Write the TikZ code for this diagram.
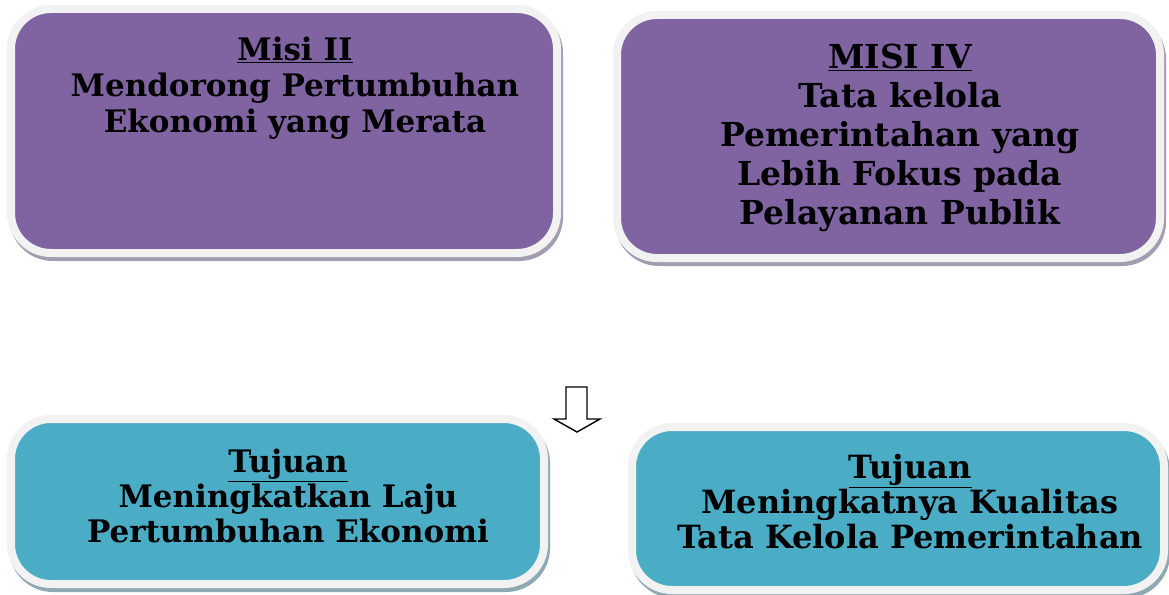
\documentclass[tikz,border=0pt]{standalone}
\usepackage{fontspec}
\setmainfont{DejaVu Serif}
\usetikzlibrary{shadows}
\definecolor{purp}{HTML}{8064A2}
\definecolor{cyanb}{HTML}{4BACC6}
\definecolor{rim}{HTML}{F2F2F2}
\definecolor{shp}{HTML}{A49CB0}
\definecolor{shc}{HTML}{8FA9B2}
\tikzset{
  card/.style={rectangle, rounded corners=40pt, draw=rim, line width=8pt, inner sep=0pt},
  purplecard/.style={card, fill=purp, drop shadow={shadow xshift=2pt, shadow yshift=-4pt, fill=shp, draw=shp, line width=8pt, opacity=1}},
  cyancard/.style={card, fill=cyanb, drop shadow={shadow xshift=2pt, shadow yshift=-4pt, fill=shc, draw=shc, line width=8pt, opacity=1}},
  label/.style={align=center, text=black, font=\bfseries\fontsize{31}{36}\selectfont, inner sep=0pt},
  hollowarrow/.style={draw=black, fill=white, line width=1.4pt, line join=miter}
}
\begin{document}
\begin{tikzpicture}[x=1pt,y=-1pt]
\useasboundingbox (0,0) rectangle (1169,594);
\node[purplecard, minimum width=546pt, minimum height=244pt] (m2) at (284,131) {};
\node[purplecard, minimum width=543pt, minimum height=243pt] (m4) at (888.5,136.5) {};
\node[cyancard, minimum width=533pt, minimum height=165pt] (t1) at (277.5,501.5) {};
\node[cyancard, minimum width=532pt, minimum height=163pt] (t2) at (898,508.5) {};
\node[label] (m2t) at (295,88) {\underline{Misi II}\\Mendorong Pertumbuhan\\Ekonomi yang Merata};
\node[label, font=\bfseries\fontsize{33}{39}\selectfont] (m4t) at (900,138) {\underline{MISI IV}\\Tata kelola\\Pemerintahan yang\\Lebih Fokus pada\\Pelayanan Publik};
\node[label, font=\bfseries\fontsize{31}{35}\selectfont] (t1t) at (288,496) {\underline{Tujuan}\\Meningkatkan Laju\\Pertumbuhan Ekonomi};
\node[label, font=\bfseries\fontsize{32}{35}\selectfont] (t2t) at (910,502) {\underline{Tujuan}\\Meningkatnya Kualitas\\Tata Kelola Pemerintahan};
\draw[hollowarrow] (566,387) -- (587,387) -- (587,419) -- (600,419) -- (577,432) -- (554,419) -- (566,419) -- cycle;
\end{tikzpicture}
\end{document}
